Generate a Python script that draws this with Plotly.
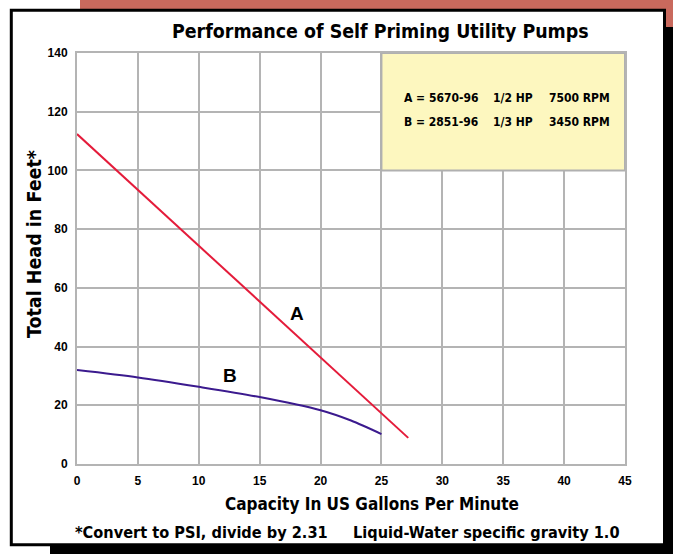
import plotly.graph_objects as go

# ---- data ----
a_x = [0, 27.2]
a_y = [112.4, 8.9]
b_x = [0, 5, 10, 15, 20, 22.5, 25]
b_y = [32, 29.5, 26.3, 22.8, 18.3, 14.8, 10.2]

x_ticks = [0, 5, 10, 15, 20, 25, 30, 35, 40, 45]
y_ticks = [0, 20, 40, 60, 80, 100, 120, 140]

title_text = "Performance of Self Priming Utility Pumps"
x_title = "Capacity In US Gallons Per Minute"
y_title = "Total Head in Feet*"
footnote = "*Convert to PSI, divide by 2.31&nbsp;&nbsp;&nbsp;&nbsp;&nbsp;Liquid-Water specific gravity 1.0"

legend_rows = [["A = 5670-96", "1/2 HP", "7500 RPM"],
               ["B = 2851-96", "1/3 HP", "3450 RPM"]]
legend_col_x = [26.7, 34.0, 38.6]
legend_row_y = [124.7, 116.5]

W, H = 673, 554
L, R, T, B = 77, 625, 53, 464
COND = "DejaVu Sans Condensed, Liberation Sans Narrow, sans-serif"
REG = "Liberation Sans, Arial, sans-serif"


def px(x):
    return (x - L) / (R - L)


def py(y):
    return (B - y) / (B - T)


fig = go.Figure()
fig.add_trace(go.Scatter(x=a_x, y=a_y, mode="lines",
                         line=dict(color="#e41b3a", width=2), hoverinfo="skip"))
fig.add_trace(go.Scatter(x=b_x, y=b_y, mode="lines",
                         line=dict(color="#3b1a8e", width=2, shape="spline", smoothing=0.8),
                         hoverinfo="skip"))

shapes = [
    # red strip
    dict(type="rect", xref="paper", yref="paper", x0=px(80), x1=px(673), y0=py(0), y1=py(27),
         fillcolor="#c9695d", line=dict(width=0), layer="below"),
    # shadow right
    dict(type="rect", xref="paper", yref="paper", x0=px(664), x1=px(673), y0=py(27), y1=py(554),
         fillcolor="black", line=dict(width=0), layer="below"),
    # shadow bottom
    dict(type="rect", xref="paper", yref="paper", x0=px(50), x1=px(673), y0=py(544), y1=py(554),
         fillcolor="black", line=dict(width=0), layer="below"),
    # panel
    dict(type="rect", xref="paper", yref="paper", x0=px(11.3), x1=px(664.5), y0=py(10.3), y1=py(544.7),
         fillcolor="white", line=dict(color="black", width=3), layer="below"),
    # yellow legend box
    dict(type="rect", xref="x", yref="y", x0=25, x1=45, y0=100, y1=140,
         fillcolor="#fdf7bf", line=dict(color="#b0b0b0", width=2), layer="above"),
]

annotations = [
    dict(text=title_text, xref="paper", yref="paper", x=px(380), y=py(31),
         showarrow=False, font=dict(family=COND, size=19.4, color="black", weight="bold"),
         xanchor="center", yanchor="middle"),
    dict(text=x_title, xref="paper", yref="paper", x=px(372), y=py(504),
         showarrow=False, font=dict(family=COND, size=17, color="black", weight="bold"),
         xanchor="center", yanchor="middle"),
    dict(text=footnote, xref="paper", yref="paper", x=px(347), y=py(532),
         showarrow=False, font=dict(family=COND, size=16.2, color="black", weight="bold"),
         xanchor="center", yanchor="middle"),
    dict(text=y_title, xref="paper", yref="paper", x=px(34), y=py(244), textangle=-90,
         showarrow=False, font=dict(family=COND, size=19.5, color="black", weight="bold"),
         xanchor="center", yanchor="middle"),
    dict(text="A", xref="x", yref="y", x=18.1, y=51.4, showarrow=False,
         font=dict(family=REG, size=19, color="black", weight="bold")),
    dict(text="B", xref="x", yref="y", x=12.6, y=30.3, showarrow=False,
         font=dict(family=REG, size=19, color="black", weight="bold")),
]
for r, row in enumerate(legend_rows):
    for c, txt in enumerate(row):
        annotations.append(dict(text=txt, xref="x", yref="y", x=legend_col_x[c], y=legend_row_y[r],
                                showarrow=False, xanchor="left", yanchor="middle",
                                font=dict(family=COND, size=12, color="black", weight="bold")))

axis_common = dict(showgrid=True, gridcolor="#b4b4b4", gridwidth=2, zeroline=False,
                   showline=True, linecolor="#b4b4b4", linewidth=2, mirror=True,
                   ticks="outside", ticklen=5, tickcolor="rgba(0,0,0,0)",
                   tickfont=dict(family=REG, size=12, color="black", weight="bold"))

fig.update_layout(
    width=W, height=H,
    margin=dict(l=L, r=W - R, t=T, b=H - B, pad=0),
    paper_bgcolor="white", plot_bgcolor="white",
    showlegend=False,
    shapes=shapes, annotations=annotations,
    xaxis=dict(range=[0, 45], tickvals=x_ticks, **axis_common),
    yaxis=dict(range=[0, 140], tickvals=y_ticks, **axis_common),
)

fig.write_html("out.html", config={"displayModeBar": False},
               post_script="document.body.style.margin='0px';")
